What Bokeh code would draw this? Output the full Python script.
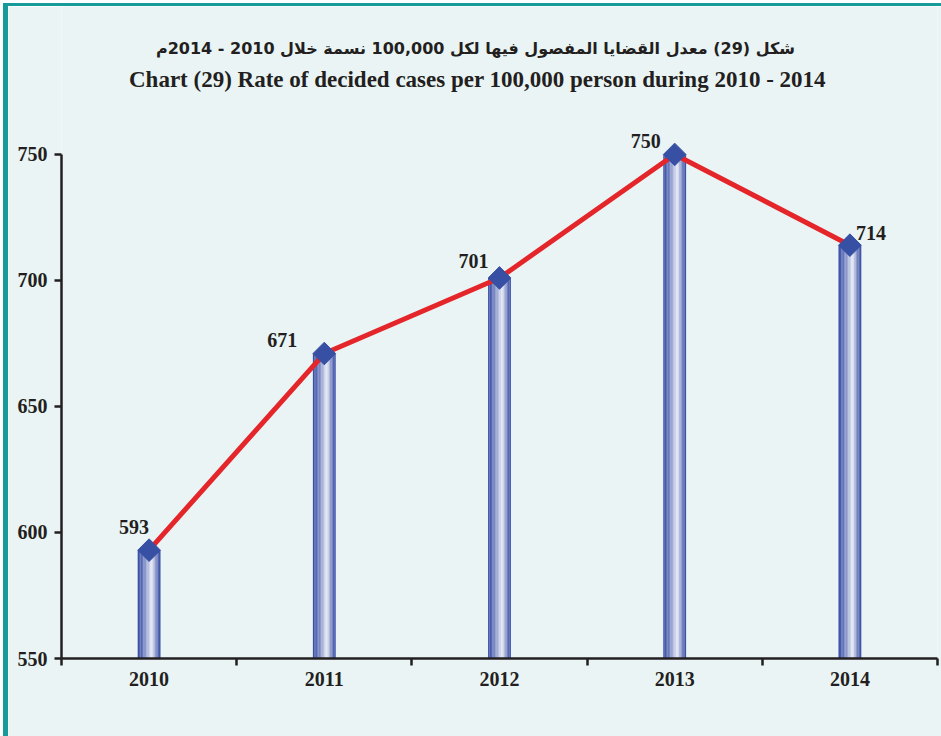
import math
from bokeh.plotting import figure
from bokeh.models import Range1d, FixedTicker, Label, ColumnDataSource
from bokeh.core.properties import value
from bokeh.embed import file_html
from bokeh.resources import INLINE

# ---- data ----
years = ["2010", "2011", "2012", "2013", "2014"]
rates = [593, 671, 701, 750, 714]
y_ticks = [550, 600, 650, 700, 750]
title_ar = "شكل (29) معدل القضايا المفصول فيها لكل 100,000 نسمة خلال 2010 - 2014م"
title_en = "Chart (29) Rate of decided cases per 100,000 person during 2010 - 2014"

# ---- styles ----
BG = "#eaf4f5"
TXT = "#231f20"
TEAL = "#179a9a"
LINE_RED = "#e4262b"
DIAMOND = "#3850a3"
SERIF = "Liberation Serif"
label_dx = [-15, -42, -26, -29, 21]
label_dy = [-23, -14, -17, -13, -12]

xs = list(range(1, len(years) + 1))

p = figure(width=938, height=733,
           x_range=Range1d(0.5, len(years) + 0.5), y_range=Range1d(550, 808.7),
           output_backend="svg", toolbar_location=None,
           min_border_left=53, min_border_right=9, min_border_top=0, min_border_bottom=81,
           background_fill_color=BG, border_fill_color=BG, outline_line_color=None)
p.styles = {"border-left": "5px solid " + TEAL, "border-top": "3px solid " + TEAL,
            "margin-left": "3px", "margin-top": "3px"}
p.grid.visible = False

# gradient cylinders made of thin strips
bar_w = 0.13
n_strips = 16
dark = (56, 76, 165)
light = (238, 241, 249)
for k in range(n_strips):
    t = (k + 0.5) / n_strips
    peak = 0.62
    f = max(0.0, 1 - abs(t - peak) / (peak if t < peak else 1 - peak))
    f = f ** 1.3
    c = tuple(int(dark[i] + (light[i] - dark[i]) * f) for i in range(3))
    col = "#%02x%02x%02x" % c
    off = -bar_w / 2 + (k + 0.5) * bar_w / n_strips
    p.vbar(x=[x + off for x in xs], top=rates, bottom=550,
           width=bar_w / n_strips * 1.05, fill_color=col, line_color=None)

p.line(xs, rates, line_color=LINE_RED, line_width=5)
p.scatter(xs, rates, marker="square", angle=math.pi / 4, size=16,
          fill_color=DIAMOND, line_color=DIAMOND)

src = ColumnDataSource(dict(x=xs, y=rates, t=[str(v) for v in rates],
                            dx=label_dx, dy=label_dy))
p.text(x="x", y="y", text="t", x_offset="dx", y_offset="dy", source=src,
       text_align="center", text_baseline="middle",
       text_font=value(SERIF), text_font_style="bold", text_font_size="20px",
       text_color=TXT)

# axes
p.xaxis.ticker = FixedTicker(ticks=xs, minor_ticks=[x - 0.5 for x in xs] + [xs[-1] + 0.5])
p.xaxis.major_label_overrides = {x: yv for x, yv in zip(xs, years)}
p.xaxis.major_tick_line_color = None
p.xaxis.major_tick_out = 6
p.xaxis.minor_tick_out = 7
p.xaxis.minor_tick_in = 0
p.xaxis.minor_tick_line_width = 2.5
p.xaxis.minor_tick_line_color = TXT
p.xaxis.major_label_standoff = 6

p.yaxis.ticker = FixedTicker(ticks=y_ticks)
p.yaxis.bounds = (550, 750)
p.yaxis.major_tick_out = 7
p.yaxis.major_tick_in = 0
p.yaxis.major_tick_line_width = 2.5
p.yaxis.major_tick_line_color = TXT
p.yaxis.minor_tick_line_color = None
p.yaxis.major_label_standoff = 7

for ax in (p.xaxis, p.yaxis):
    ax.axis_line_width = 2.5
    ax.axis_line_color = TXT
    ax.major_label_text_font = SERIF
    ax.major_label_text_font_style = "bold"
    ax.major_label_text_font_size = "20px"
    ax.major_label_text_color = TXT

p.add_layout(Label(x=414, y=610, x_units="screen", y_units="screen", text=title_ar,
                   text_align="center", text_baseline="alphabetic",
                   text_font="DejaVu Sans", text_font_style="bold", text_font_size="16px",
                   text_color=TXT))
p.add_layout(Label(x=416, y=579, x_units="screen", y_units="screen", text=title_en,
                   text_align="center", text_baseline="alphabetic",
                   text_font=SERIF, text_font_style="bold", text_font_size="23px",
                   text_color=TXT))

open("out.html", "w").write(file_html(p, INLINE))
